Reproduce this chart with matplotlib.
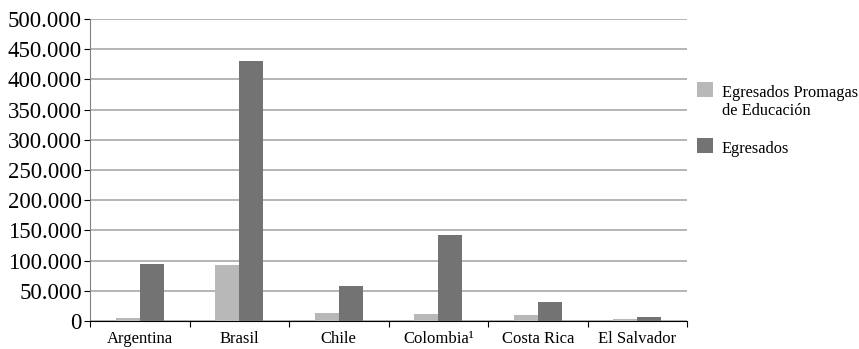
import matplotlib
matplotlib.use("Agg")
import matplotlib.pyplot as plt
import numpy as np
from matplotlib.patches import Rectangle
from matplotlib.ticker import FuncFormatter, MultipleLocator

plt.rcParams["font.family"] = ["Liberation Serif", "DejaVu Serif"]

countries = ["Argentina", "Brasil", "Chile", "Colombia\u00b9", "Costa Rica", "El Salvador"]
promagas = [5000, 93000, 14000, 12000, 10000, 3500]
egresados = [94000, 430000, 58000, 142000, 31500, 7000]
series_labels = ["Egresados Promagas\nde Educación", "Egresados"]
colors = ["#b8b8b8", "#737373"]

W, H = 859, 349
fig = plt.figure(figsize=(W / 100, H / 100), dpi=100)
ax = fig.add_axes([0.1048, 0.0802, 0.695, 0.8654])

x = np.arange(len(countries))
w = 0.24
b1 = ax.bar(x - w / 2, promagas, w, color=colors[0], zorder=3)
b2 = ax.bar(x + w / 2, egresados, w, color=colors[1], zorder=3)

ax.set_xlim(-0.5, len(countries) - 0.5)
ax.set_ylim(0, 500000)
ax.yaxis.set_major_locator(MultipleLocator(50000))
ax.yaxis.set_major_formatter(FuncFormatter(lambda v, p: f"{int(v):,}".replace(",", ".")))
ax.grid(axis="y", color="#a0a0a0", linewidth=1.1, zorder=0)

ax.set_xticks(x)
ax.set_xticklabels(countries, fontsize=12)
ax.set_xticks(np.arange(-0.5, len(countries)), minor=True)
ax.tick_params(axis="x", which="major", length=0, pad=7)
ax.tick_params(axis="x", which="minor", length=4, direction="out", width=0.8)
ax.tick_params(axis="y", labelsize=16.5, length=4, width=0.8, pad=2)

for s in ["top", "right"]:
    ax.spines[s].set_visible(False)
ax.spines["left"].set_color("#808080")
ax.spines["bottom"].set_color("black")

# Legend drawn with figure-pixel placement: swatch to the left, text baseline at swatch bottom
def px(xp, yp):
    return xp / W, 1 - yp / H

legend_rows = [(series_labels[0], colors[0], 97), (series_labels[1], colors[1], 153)]
for label, col, base in legend_rows:
    x0, y0 = px(697, base)
    fig.patches.append(Rectangle((x0, y0), 16 / W, 15 / H, transform=fig.transFigure,
                                 facecolor=col, edgecolor="none"))
    first, *rest = label.split("\n")
    tx, ty = px(722, base)
    fig.text(tx, ty, first, fontsize=11.8, va="baseline", ha="left")
    for i, line in enumerate(rest, start=1):
        tx, ty = px(722, base + 18 * i)
        fig.text(tx, ty, line, fontsize=11.8, va="baseline", ha="left")

fig.savefig("out.png", dpi=100)
